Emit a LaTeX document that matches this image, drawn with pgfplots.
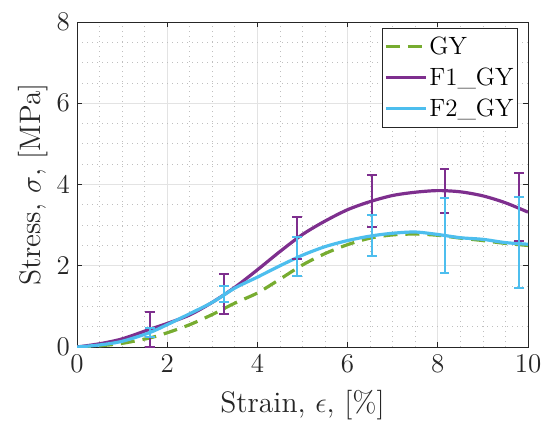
\documentclass[border=0pt]{standalone}
\usepackage{pgfplots}
\pgfplotsset{compat=1.18}
\definecolor{mgreen}{RGB}{119,172,48}
\definecolor{mpurple}{RGB}{126,47,142}
\definecolor{mblue}{RGB}{77,190,238}
\definecolor{axgray}{RGB}{38,38,38}
\begin{document}
\begin{tikzpicture}
\useasboundingbox (-38.5pt,-38.5pt) rectangle (236pt,173.5pt);
\begin{axis}[
  at={(0,0)}, anchor=south west,
  scale only axis,
  width=225.5pt, height=162.5pt,
  xmin=0, xmax=10, ymin=0, ymax=8,
  xtick={0,2,...,10}, ytick={0,2,...,8},
  minor x tick num=3, minor y tick num=3,
  tick align=inside,
  major tick length=2.5pt, minor tick length=0pt,
  axis line style={axgray, line width=0.4pt},
  tick style={axgray, line width=0.4pt},
  grid=both,
  major grid style={color=black!11, line width=0.5pt},
  minor grid style={color=black!25, dash pattern=on 0.6pt off 1.9pt, line width=0.4pt},
  /pgf/number format/assume math mode=true,
  ticklabel style={font=\fontsize{13.5}{16}\selectfont, text=axgray},
  label style={font=\fontsize{14.8}{17}\selectfont, text=axgray},
  xlabel={Strain, $\epsilon$, [\%]},
  ylabel={Stress, $\sigma$, [MPa]},
  xlabel style={yshift=-2pt},
  ylabel style={yshift=-2.5pt},
  legend style={at={(1,1)}, xshift=-5pt, yshift=-3pt, anchor=north east,
    font=\fontsize{12.5}{14}\selectfont, draw=axgray, line width=0.5pt,
    inner xsep=1pt, inner ysep=2pt, row sep=1.2pt,
    nodes={inner xsep=1pt}},
  legend cell align=left,
  legend image code/.code={\draw[#1] (0pt,0pt) -- (20pt,0pt);},
]
\addplot[mgreen, line width=1.6pt, dash pattern=on 7pt off 4pt, smooth] coordinates {
(0,0) (0.5,0.03) (1,0.09) (1.6,0.22) (2,0.35) (2.5,0.55) (3,0.8) (3.5,1.08)
(4,1.33) (4.5,1.67) (5,2.02) (5.5,2.3) (6,2.52) (6.5,2.68) (7,2.76)
(7.5,2.78) (8,2.75) (8.5,2.68) (9,2.62) (9.5,2.55) (10,2.5)};
\addlegendentry{GY}
\addplot[mpurple, line width=1.6pt, smooth] coordinates {
(0,0) (0.5,0.08) (1,0.2) (1.6,0.43) (2,0.58) (2.5,0.79) (3,1.1) (3.5,1.47)
(4,1.9) (4.5,2.35) (5,2.77) (5.5,3.1) (6,3.38) (6.5,3.58) (7,3.73)
(7.5,3.81) (8,3.85) (8.5,3.82) (9,3.72) (9.5,3.55) (10,3.32)};
\addlegendentry{F1\_GY}
\addplot[mblue, line width=1.6pt, smooth] coordinates {
(0,0) (0.5,0.05) (1,0.14) (1.6,0.35) (2,0.55) (2.5,0.82) (3,1.1) (3.5,1.45)
(4,1.72) (4.5,2.0) (5,2.26) (5.5,2.47) (6,2.62) (6.5,2.73) (7,2.8)
(7.5,2.83) (8,2.77) (8.5,2.69) (9,2.65) (9.5,2.57) (10,2.53)};
\addlegendentry{F2\_GY}
\addplot[draw=none, mark=none, forget plot,
  error bars/.cd, y dir=both, y explicit, error mark=-,
  error bar style={draw=mpurple, line width=1pt},
  error mark options={rotate=90, draw=mpurple, line width=1pt, mark size=2.3pt}]
  coordinates {
(1.62,0.44) +- (0,0.43)
(3.26,1.3) +- (0,0.49)
(4.88,2.69) +- (0,0.52)
(6.54,3.6) +- (0,0.64)
(8.15,3.84) +- (0,0.54)
(9.8,3.44) +- (0,0.84)};
\addplot[draw=none, mark=none, forget plot,
  error bars/.cd, y dir=both, y explicit, error mark=-,
  error bar style={draw=mblue, line width=1pt},
  error mark options={rotate=90, draw=mblue, line width=1pt, mark size=2.3pt}]
  coordinates {
(1.62,0.36) +- (0,0.11)
(3.26,1.3) +- (0,0.2)
(4.88,2.23) +- (0,0.48)
(6.54,2.75) +- (0,0.5)
(8.15,2.74) +- (0,0.92)
(9.8,2.57) +- (0,1.12)};
\end{axis}
\end{tikzpicture}
\end{document}
